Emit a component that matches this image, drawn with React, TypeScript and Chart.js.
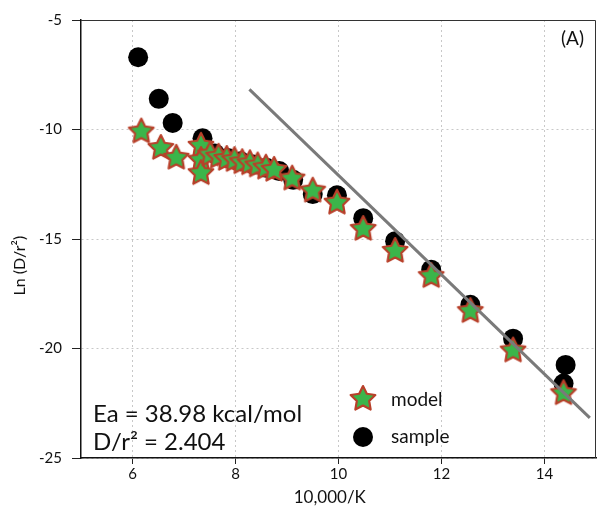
import React, { useEffect, useRef } from 'react';
import { Chart, registerables } from 'chart.js';

Chart.register(...registerables);

// ---- data ----
const modelX = [6.17, 6.55, 6.85, 7.33, 7.33, 7.33, 7.51, 7.67, 7.83, 7.98, 8.13, 8.28, 8.43, 8.59, 8.75, 9.1, 9.5, 9.97, 10.48, 11.1, 11.8, 12.56, 13.39, 14.37];
const modelY = [-10.05, -10.8, -11.25, -10.7, -11.35, -11.95, -11.1, -11.2, -11.3, -11.35, -11.45, -11.5, -11.6, -11.7, -11.8, -12.2, -12.75, -13.3, -14.5, -15.5, -16.65, -18.25, -20.05, -22.0];
const sampleX = [6.11, 6.51, 6.78, 7.36, 7.6, 7.85, 8.1, 8.35, 8.6, 8.85, 9.12, 9.5, 9.97, 10.48, 11.1, 11.8, 12.56, 13.39, 14.41, 14.37];
const sampleY = [-6.7, -8.6, -9.7, -10.4, -11.1, -11.3, -11.45, -11.6, -11.75, -11.9, -12.3, -12.95, -13.0, -14.05, -15.1, -16.4, -18.0, -19.55, -20.75, -21.6];
const fitX = [8.27, 14.88];
const fitY = [-8.17, -23.17];
const xTicks = [6, 8, 10, 12, 14];
const yTicks = [-25, -20, -15, -10, -5];
const legendLabels = ['model', 'sample'];
const annotationLines = ['Ea = 38.98 kcal/mol', 'D/r\u00B2 = 2.404'];
const panelLabel = '(A)';
const xTitle = '10,000/K';
const yTitle = 'Ln (D/r\u00B2)';

const FONT = 'Lato, "Open Sans", sans-serif';
const TEXT = '#111';

function makeStar(R: number, r: number): HTMLCanvasElement {
  const size = Math.ceil(2 * R + 4);
  const c = document.createElement('canvas');
  c.width = size;
  c.height = size;
  const ctx = c.getContext('2d')!;
  const cx = size / 2;
  const cy = size / 2 + R * 0.08;
  ctx.beginPath();
  for (let i = 0; i < 10; i++) {
    const ang = -Math.PI / 2 + (i * Math.PI) / 5;
    const rad = i % 2 === 0 ? R : r;
    const px = cx + rad * Math.cos(ang);
    const py = cy + rad * Math.sin(ang);
    if (i === 0) ctx.moveTo(px, py);
    else ctx.lineTo(px, py);
  }
  ctx.closePath();
  ctx.fillStyle = '#3bb54a';
  ctx.fill();
  ctx.lineJoin = 'round';
  ctx.lineWidth = 2.2;
  ctx.strokeStyle = '#b8402a';
  ctx.stroke();
  return c;
}

export default function App() {
  const ref = useRef<HTMLCanvasElement | null>(null);

  useEffect(() => {
    document.body.style.margin = '0';
    const canvas = ref.current;
    if (!canvas) return;
    const star = makeStar(13, 6.5);

    const overlay = {
      id: 'overlay',
      afterDraw(chart: any) {
        const { ctx, chartArea: a } = chart;
        ctx.save();
        // top & right frame
        ctx.strokeStyle = '#333';
        ctx.lineWidth = 1;
        ctx.beginPath();
        ctx.moveTo(a.left, a.top + 0.5);
        ctx.lineTo(a.right - 0.5, a.top + 0.5);
        ctx.lineTo(a.right - 0.5, a.bottom);
        ctx.stroke();

        // annotation text
        ctx.fillStyle = TEXT;
        ctx.textAlign = 'left';
        ctx.textBaseline = 'alphabetic';
        ctx.font = `24px ${FONT}`;
        ctx.fillText(annotationLines[0], 93, 422);
        ctx.fillText(annotationLines[1], 93, 450);

        ctx.font = `19px ${FONT}`;
        ctx.fillText(panelLabel, 561, 45);

        // legend
        ctx.drawImage(star, 363 - star.width / 2, 398 - star.height / 2);
        ctx.beginPath();
        ctx.arc(363, 437, 10, 0, Math.PI * 2);
        ctx.fillStyle = '#000';
        ctx.fill();
        ctx.fillStyle = TEXT;
        ctx.font = `19px ${FONT}`;
        ctx.textBaseline = 'middle';
        ctx.fillText(legendLabels[0], 391, 400);
        ctx.fillText(legendLabels[1], 391, 437);
        ctx.restore();
      },
    };

    const chart = new Chart(canvas, {
      type: 'scatter',
      data: {
        datasets: [
          {
            label: 'fit',
            data: fitX.map((x, i) => ({ x, y: fitY[i] })),
            showLine: true,
            borderColor: '#7a7a7a',
            borderWidth: 3,
            pointRadius: 0,
            pointHoverRadius: 0,
          },
          {
            label: legendLabels[0],
            data: modelX.map((x, i) => ({ x, y: modelY[i] })),
            pointStyle: star as any,
            pointRadius: 13,
          },
          {
            label: legendLabels[1],
            data: sampleX.map((x, i) => ({ x, y: sampleY[i] })),
            pointStyle: 'circle',
            pointRadius: 10,
            backgroundColor: '#000',
            borderColor: '#000',
            borderWidth: 0,
          },
        ],
      },
      options: {
        animation: false,
        responsive: false,
        maintainAspectRatio: false,
        layout: { padding: { top: 20, right: 1, left: 0, bottom: 0 } },
        plugins: {
          legend: { display: false },
          tooltip: { enabled: false },
        },
        scales: {
          x: {
            type: 'linear',
            min: 5,
            max: 15,
            afterBuildTicks: (s: any) => {
              s.ticks = xTicks.map((v) => ({ value: v }));
            },
            afterFit: (s: any) => {
              s.height = 58;
            },
            ticks: {
              color: TEXT,
              font: { family: FONT, size: 15 },
              padding: 1,
            },
            grid: {
              color: '#c8c8c8',
              tickColor: '#222',
              tickLength: 6,
              lineWidth: 1,
            },
            border: { display: true, color: '#111', width: 1.5, dash: [2, 3] },
            title: {
              display: true,
              text: xTitle + '    ',
              color: TEXT,
              font: { family: FONT, size: 17 },
              padding: { top: 0, bottom: 8 },
            },
          },
          y: {
            type: 'linear',
            min: -25,
            max: -5,
            afterBuildTicks: (s: any) => {
              s.ticks = yTicks.map((v) => ({ value: v }));
            },
            afterFit: (s: any) => {
              s.width = 81;
            },
            ticks: {
              color: TEXT,
              font: { family: FONT, size: 15 },
              padding: 10,
            },
            grid: {
              color: '#c8c8c8',
              tickColor: '#222',
              tickLength: 9,
              lineWidth: 1,
            },
            border: { display: true, color: '#111', width: 1.5, dash: [2, 3] },
            title: {
              display: true,
              text: yTitle + '             ',
              color: TEXT,
              font: { family: FONT, size: 16 },
              padding: { top: 10, bottom: 0 },
            },
          },
        },
      },
      plugins: [overlay],
    });

    return () => chart.destroy();
  }, []);

  return (
    <div style={{ width: 610, height: 516 }}>
      <canvas ref={ref} width={610} height={516} style={{ display: 'block' }} />
    </div>
  );
}
